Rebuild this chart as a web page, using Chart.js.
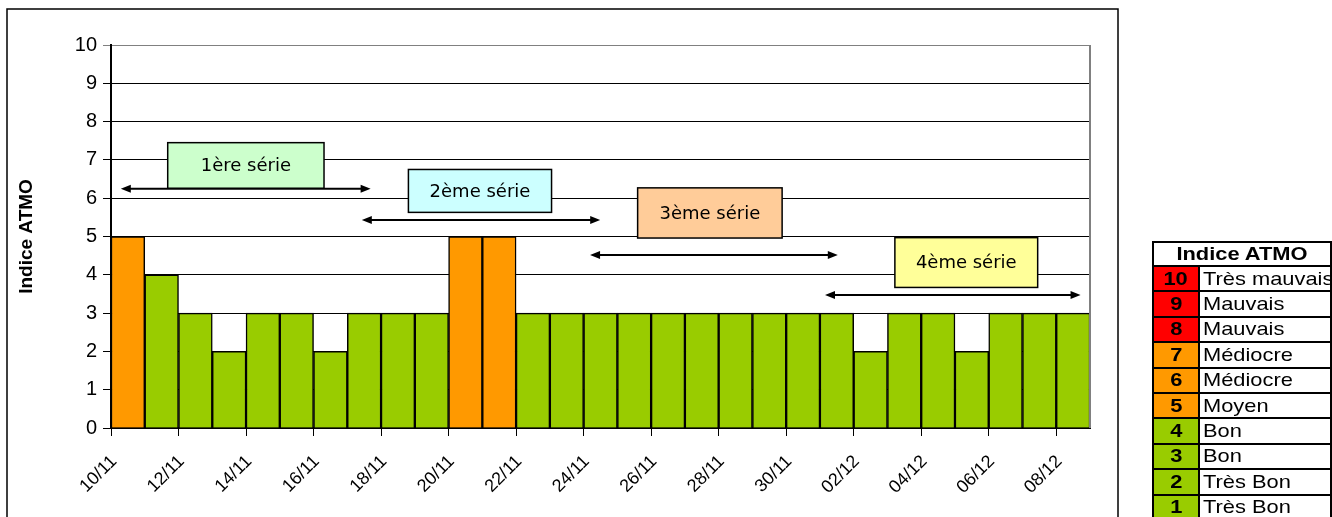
<!DOCTYPE html>
<html>
<head>
<meta charset="utf-8">
<script src="https://cdn.jsdelivr.net/npm/chart.js@4/dist/chart.umd.min.js"></script>
<style>
  html, body { margin: 0; padding: 0; background: #fff; overflow: hidden; }
  #wrap { position: relative; width: 1332px; height: 517px; }
  #legend {
    position: absolute; left: 1152px; top: 241px;
    border-collapse: collapse; font-family: "Liberation Sans", Arial, sans-serif;
    font-size: 19px; color: #000;
  }
  #legend th { border: 2px solid #000; height: 22px; padding: 0; font-weight: bold; background: #fff; line-height: 20px; }
  #legend td { border: 2px solid #000; height: 23.4px; padding: 0 0 0 3px; line-height: 20px; background: #fff; }
  #legend td.num { width: 49px; text-align: center; font-weight: bold; padding: 0; }
  #legend td.lbl { width: 130px; white-space: nowrap; }
  #legend span { display: inline-block; transform: scaleX(1.15); transform-origin: left center; }
  #legend th span { transform-origin: center center; }
  #legend td.num span { transform-origin: center center; }
</style>
</head>
<body>
<div id="wrap">
  <canvas id="myChart" width="1332" height="517"></canvas>
  <table id="legend"></table>
</div>
<script>
'use strict';

// dates of the measures (one bar per day)
let days = ['10/11','11/11','12/11','13/11','14/11','15/11','16/11','17/11','18/11','19/11',
  '20/11','21/11','22/11','23/11','24/11','25/11','26/11','27/11','28/11','29/11',
  '30/11','01/12','02/12','03/12','04/12','05/12','06/12','07/12','08/12'];
let atmoValues = [5,4,3,2,3,3,2,3,3,3, 5,5,3,3,3,3,3,3,3,3, 3,3,2,3,3,2,3,3,3];

// y axis
let yTicks = [0,1,2,3,4,5,6,7,8,9,10];

// series labels (annotations)
let seriesNames = ['1ère série','2ème série','3ème série','4ème série'];

// legend table
let legendIndex = [10,9,8,7,6,5,4,3,2,1];
let legendLabels = ['Très mauvais','Mauvais','Mauvais','Médiocre','Médiocre','Moyen','Bon','Bon','Très Bon','Très Bon'];

function colorFor(v){
  if (v >= 8) return '#FF0000';
  if (v >= 5) return '#FF9900';
  return '#99CC00';
}

// annotation placement, in axis units (x = day index, y = ATMO value)
let seriesBoxes = [
  {x1: 1.68, x2: 6.31, y1: 7.45, y2: 6.26, fill: '#CCFFCC'},
  {x1: 8.81, x2: 13.05, y1: 6.75, y2: 5.63, fill: '#CCFFFF'},
  {x1: 15.6, x2: 19.88, y1: 6.27, y2: 4.96, fill: '#FFCC99'},
  {x1: 23.22, x2: 27.45, y1: 4.97, y2: 3.67, fill: '#FFFF99'}
];
let seriesArrows = [
  {x1: 0.29, x2: 7.69, y: 6.25},
  {x1: 7.43, x2: 14.49, y: 5.43},
  {x1: 14.19, x2: 21.53, y: 4.52},
  {x1: 21.15, x2: 28.72, y: 3.47}
];

// build legend table
let table = document.getElementById('legend');
let head = document.createElement('tr');
head.innerHTML = '<th colspan="2"><span>Indice ATMO</span></th>';
table.appendChild(head);
for (let i = 0; i < legendIndex.length; i++){
  let row = document.createElement('tr');
  row.innerHTML = '<td class="num" style="background:' + colorFor(legendIndex[i]) + '"><span>' + legendIndex[i] +
    '</span></td><td class="lbl"><span>' + legendLabels[i] + '</span></td>';
  table.appendChild(row);
}

let barData = [];
for (let i = 0; i < atmoValues.length; i++){
  barData.push({x: i + 0.5, y: atmoValues[i]});
}

function drawArrowHead(ctx, x, y, dir){
  ctx.beginPath();
  ctx.moveTo(x, y);
  ctx.lineTo(x - dir * 10, y - 4);
  ctx.lineTo(x - dir * 10, y + 4);
  ctx.closePath();
  ctx.fill();
}

let framePlugin = {
  id: 'frame',
  afterDraw(chart){
    let ctx = chart.ctx;
    let area = chart.chartArea;
    let xs = chart.scales.x;
    let ys = chart.scales.y;
    ctx.save();
    // right border of plot area
    ctx.strokeStyle = '#808080';
    ctx.lineWidth = 2;
    ctx.beginPath();
    ctx.moveTo(area.right, area.top);
    ctx.lineTo(area.right, area.bottom);
    ctx.stroke();

    // arrows
    ctx.strokeStyle = '#000';
    ctx.fillStyle = '#000';
    ctx.lineWidth = 2;
    seriesArrows.forEach(a => {
      let px1 = xs.getPixelForValue(a.x1);
      let px2 = xs.getPixelForValue(a.x2);
      let py = ys.getPixelForValue(a.y);
      ctx.beginPath();
      ctx.moveTo(px1 + 6, py);
      ctx.lineTo(px2 - 6, py);
      ctx.stroke();
      drawArrowHead(ctx, px1, py, -1);
      drawArrowHead(ctx, px2, py, 1);
    });

    // boxes
    seriesBoxes.forEach((b, i) => {
      let left = xs.getPixelForValue(b.x1);
      let right = xs.getPixelForValue(b.x2);
      let top = ys.getPixelForValue(b.y1);
      let bottom = ys.getPixelForValue(b.y2);
      ctx.fillStyle = b.fill;
      ctx.fillRect(left, top, right - left, bottom - top);
      ctx.strokeStyle = '#000';
      ctx.lineWidth = 1.5;
      ctx.strokeRect(left, top, right - left, bottom - top);
      ctx.fillStyle = '#000';
      ctx.font = '18px "Comic Sans MS", "DejaVu Sans", sans-serif';
      ctx.textAlign = 'center';
      ctx.textBaseline = 'middle';
      ctx.fillText(seriesNames[i], (left + right) / 2, (top + bottom) / 2 + 1);
    });

    // outer frame
    ctx.strokeStyle = '#000';
    ctx.lineWidth = 1.5;
    ctx.strokeRect(7, 9, 1111, 530);
    ctx.restore();
  }
};

let ctx = document.getElementById('myChart').getContext('2d');
new Chart(ctx, {
  type: 'bar',
  data: {
    datasets: [{
      label: 'Indice ATMO',
      data: barData,
      backgroundColor: atmoValues.map(colorFor),
      borderColor: '#000',
      borderWidth: 1.5,
      barPercentage: 1,
      categoryPercentage: 1
    }]
  },
  options: {
    responsive: false,
    animation: false,
    events: [],
    layout: {padding: {left: 0, top: 45, right: 242, bottom: 0}},
    plugins: {legend: {display: false}, tooltip: {enabled: false}},
    scales: {
      x: {
        type: 'linear',
        offset: false,
        min: 0,
        max: days.length,
        afterFit(scale){ scale.height = 89; },
        grid: {offset: false, drawOnChartArea: false, drawTicks: true, tickLength: 8, color: '#000', lineWidth: 1},
        border: {color: '#000', width: 2},
        ticks: {
          stepSize: 2,
          includeBounds: false,
          autoSkip: false,
          minRotation: 45,
          maxRotation: 45,
          labelOffset: 3,
          padding: 15,
          color: '#000',
          font: {family: '"Liberation Sans", Arial, sans-serif', size: 18},
          callback: (value) => days[value]
        }
      },
      y: {
        min: yTicks[0],
        max: yTicks[yTicks.length - 1],
        afterFit(scale){ scale.width = 111; },
        afterBuildTicks(scale){ scale.ticks = yTicks.map(v => ({value: v})); },
        grid: {
          color: (c) => c.tick && c.tick.value === 10 ? '#808080' : '#000',
          lineWidth: 1,
          tickLength: 8
        },
        border: {color: '#000', width: 2},
        ticks: {
          padding: 6,
          color: '#000',
          font: {family: '"Liberation Sans", Arial, sans-serif', size: 20}
        },
        title: {
          display: true,
          text: 'Indice ATMO',
          color: '#000',
          padding: {top: 15, bottom: 0},
          font: {family: '"Liberation Sans", Arial, sans-serif', size: 19, weight: 'bold'}
        }
      }
    }
  },
  plugins: [framePlugin]
});
</script>
</body>
</html>
